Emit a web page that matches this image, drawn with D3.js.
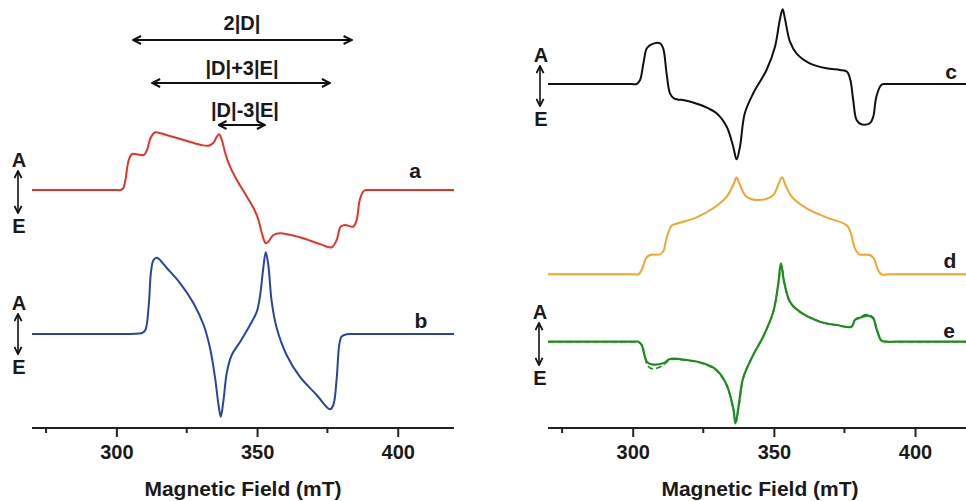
<!DOCTYPE html>
<html><head><meta charset="utf-8">
<script src="https://cdn.jsdelivr.net/npm/d3@7"></script>
<style>
body{margin:0;background:#fff}
svg{display:block}
text{font-family:"Liberation Sans",Arial,sans-serif;font-weight:bold;fill:#1a1a1a}
</style>
</head><body>
<svg id="chart" width="966" height="501"></svg>
<script>
// ---------- data (field in mT, signal in arbitrary units) ----------
const fieldA = [270,280,290,297,299.5,301.4,302.4,303.2,304.4,305.6,307.3,309.7,310.9,312.1,313.8,315.6,323.9,329.8,332.7,334.5,335.7,336.5,337.5,338.7,340.4,342.8,346.4,348.8,350.5,351.7,353.1,354.0,355.8,358.2,365.2,372.3,376.5,378.3,379.7,381.2,384.2,385.4,386.5,388.0,390.1,393,400,410,420];
const sigA   = [0,0,0,0,0,0,0.17,1.0,3.0,3.6,3.57,3.5,4.0,5.17,5.77,5.67,5.0,4.53,4.43,4.73,5.33,5.57,5.0,3.67,2.33,1.0,-0.67,-1.83,-3.0,-4.33,-5.33,-5.17,-4.5,-4.33,-4.73,-5.4,-5.73,-5.0,-3.67,-3.5,-3.67,-3.0,-1.0,-0.07,0,0,0,0,0];

const fieldB = [270,280,290,300,305,308,309.1,310.3,311.5,312.3,313.2,314.4,318.0,322.7,327.4,331.0,333.3,335.1,336.3,337.1,338.0,339.3,341.0,344.0,347.5,349.9,351.1,352.2,353.1,354.0,355.2,357.0,360.5,365.2,371.2,375.9,377.1,378.3,379.2,380.0,381.8,385,392,400,410,420];
const sigB   = [0,0,0,0,0,0.05,0.1,0.4,2.9,6.23,7.4,7.63,6.57,5.07,3.07,0.9,-1.43,-4.43,-7.1,-8.27,-6.77,-3.77,-2.1,-0.77,0.9,2.23,3.9,6.57,8.17,6.9,3.23,0.57,-2.1,-4.27,-6.1,-7.53,-7.1,-4.43,-1.1,-0.27,-0.03,0,0,0,0,0];

const fieldC = [270,280,290,296,299.5,301.4,302.6,303.8,305.0,306.7,309.7,310.8,312.0,313.2,314.6,319.1,325.0,329.7,333.3,335.6,336.8,338.0,339.7,342.7,347.4,350.4,352.1,353.1,353.9,355.7,358.0,362.7,368.6,373.4,375.9,377.1,378.1,379.3,381.0,384.0,385.2,386.3,388.1,389.9,393,400,410,420];
const sigC   = [0,0,0,0,0,0,0.4,2.07,3.57,3.97,4.07,3.57,1.07,-0.93,-1.43,-1.67,-2.2,-2.93,-4.27,-6.27,-7.53,-6.27,-2.93,-0.93,1.4,3.73,6.4,7.47,6.57,4.23,3.07,2.07,1.57,1.4,1.23,0.4,-1.6,-3.6,-4.03,-3.93,-3.27,-1.27,-0.07,0,0,0,0,0];

const fieldD = [270,280,290,297,300.5,302.0,303.2,304.7,306.1,309.7,310.8,312.0,313.8,316.1,322.6,328.5,333.3,335.6,336.8,338.0,340.3,345.0,349.8,351.5,352.9,354.1,356.3,361.6,368.6,375.7,377.1,378.7,380.2,384.0,385.4,386.9,388.1,391,398,405,412,420];
const sigD   = [0,0,0,0,0,0,0.43,1.6,1.93,2.0,2.27,3.6,4.87,5.1,5.7,6.6,7.77,8.93,9.67,8.93,7.77,7.43,7.93,8.93,9.7,8.93,7.77,6.6,5.7,4.93,4.27,2.6,2.0,1.93,1.6,0.43,0,0,0,0,0,0];

const fieldE = [270,280,290,297,300.5,302.0,303.2,304.0,305.0,306.7,310.8,313.2,319.1,325.0,329.7,333.3,335.6,336.4,337.4,339.1,342.7,346.2,349.8,351.5,352.5,353.6,355.7,359.2,366.3,372.2,377.5,378.7,380.5,383.4,385.2,386.3,388.1,389.9,393,400,410,420];
const sigE   = [0,0,0,0,0,0,-0.33,-1.16,-2.0,-2.26,-2.16,-1.73,-1.83,-2.16,-2.83,-4.33,-6.66,-8.16,-6.66,-3.66,-1.33,0.5,3.0,5.67,7.84,6.0,4.0,3.0,2.0,1.67,1.5,2.17,2.4,2.6,2.34,1.34,0.1,0,0,0,0,0];

const fieldEfit = [270,280,290,297,300.5,302.0,303.3,304.3,305.3,307.0,309.4,311.5,313.2,319.1,325.0,329.7,333.3,335.7,336.6,337.6,339.3,342.7,346.2,349.8,351.6,352.7,353.8,355.8,359.2,366.3,372.2,377.5,378.8,380.5,383.4,385.2,386.4,388.2,390.0,393,400,410,420];
const sigEfit   = [0,0,0,0,0,0,-0.4,-1.4,-2.4,-2.7,-2.55,-2.2,-1.8,-1.85,-2.2,-2.9,-4.4,-6.8,-7.9,-6.5,-3.5,-1.3,0.5,3.0,5.8,7.6,5.8,3.9,2.95,2.0,1.65,1.5,2.2,2.5,2.7,2.4,1.3,0.1,0,0,0,0,0];

// trace baselines (a.u.)
const offsets = {a:23.8, b:9.4, c:34.4, d:15.37, e:8.63};
const majorTicks = [300,350,400];
const minorTicks = [275,325,375];
const fieldDomain = [270,420];
const xTitle = "Magnetic Field (mT)";
const spanLabels = ["2|D|","|D|+3|E|","|D|-3|E|"];
const spans = [[305.9,383.6],[312.7,375.9],[336.3,352.8]];

// ---------- drawing ----------
const svg = d3.select("#chart");
const y = d3.scaleLinear().domain([0,42]).range([428,8]);

const defs = svg.append("defs");
function marker(id, size){
  defs.append("marker").attr("id",id).attr("viewBox","0 0 10 10")
    .attr("refX",9).attr("refY",5).attr("markerWidth",size).attr("markerHeight",size)
    .attr("markerUnits","userSpaceOnUse").attr("orient","auto-start-reverse")
    .append("path").attr("d","M1,1 L9,5 L1,9").attr("fill","none")
    .attr("stroke","#111").attr("stroke-width",2);
}
marker("ah",10); marker("ah2",9);

const panels = [
  {range:[32,454], traces:[
    {f:fieldA, s:sigA, off:offsets.a, color:"#e6332a", lab:"a", lx:415, ly:178},
    {f:fieldB, s:sigB, off:offsets.b, color:"#2b43a3", lab:"b", lx:421, ly:328}],
   ae:[{x:19, top:167, bot:233},{x:19, top:310, bot:374}], title:243},
  {range:[548,971.5], traces:[
    {f:fieldC, s:sigC, off:offsets.c, color:"#111111", lab:"c", lx:951, ly:79},
    {f:fieldD, s:sigD, off:offsets.d, color:"#f5a52a", lab:"d", lx:950, ly:268},
    {f:fieldEfit, s:sigEfit, off:offsets.e, color:"#1f8c1f", dash:"6,3", w:1.6},
    {f:fieldE, s:sigE, off:offsets.e, color:"#1f8c1f", lab:"e", lx:949, ly:338, w:2.2}],
   ae:[{x:541, top:62, bot:126},{x:540, top:319, bot:385}], title:760}
];

panels.forEach((p, pi) => {
  const x = d3.scaleLinear().domain(fieldDomain).range(p.range);
  const line = d3.line().curve(d3.curveCatmullRom.alpha(0.5));
  const axisY = 428;
  svg.append("line").attr("x1",p.range[0]).attr("x2",p.range[1])
    .attr("y1",axisY).attr("y2",axisY).attr("stroke","#222").attr("stroke-width",2);
  const ax = d3.axisBottom(x).tickValues(majorTicks).tickSize(9).tickPadding(8);
  const g = svg.append("g").attr("transform",`translate(0,${axisY})`).call(ax);
  g.select(".domain").remove();
  g.selectAll(".tick line").attr("stroke","#222").attr("stroke-width",2);
  g.selectAll(".tick text").attr("font-size",20).attr("font-family","Liberation Sans, Arial, sans-serif")
    .attr("font-weight","bold").attr("fill","#1a1a1a");
  svg.append("g").selectAll("line").data(minorTicks).join("line")
    .attr("x1",d=>x(d)).attr("x2",d=>x(d)).attr("y1",axisY).attr("y2",axisY+5)
    .attr("stroke","#222").attr("stroke-width",2);
  svg.append("text").attr("x",p.title).attr("y",496).attr("text-anchor","middle")
    .attr("font-size",21).text(xTitle);

  p.traces.forEach(t => {
    const pts = t.f.map((f,i)=>[x(f), y(t.off + t.s[i])]);
    svg.append("path").attr("d",line(pts)).attr("fill","none")
      .attr("stroke",t.color).attr("stroke-width",t.w||2)
      .attr("stroke-dasharray",t.dash||null).attr("stroke-linejoin","round");
    if (t.lab) svg.append("text").attr("x",t.lx).attr("y",t.ly).attr("text-anchor","middle")
      .attr("font-size",21).text(t.lab);
  });

  p.ae.forEach(a => {
    svg.append("text").attr("x",a.x).attr("y",a.top).attr("text-anchor","middle").attr("font-size",20).text("A");
    svg.append("text").attr("x",a.x).attr("y",a.bot).attr("text-anchor","middle").attr("font-size",20).text("E");
    svg.append("line").attr("x1",a.x-1).attr("x2",a.x-1).attr("y1",a.top+4).attr("y2",a.bot-20)
      .attr("stroke","#111").attr("stroke-width",1.6)
      .attr("marker-start","url(#ah2)").attr("marker-end","url(#ah2)");
  });

  if (pi === 0) {
    const ys = [[30,40],[75,83],[117,125]];
    spans.forEach((s,i)=>{
      svg.append("line").attr("x1",x(s[0])).attr("x2",x(s[1]))
        .attr("y1",ys[i][1]).attr("y2",ys[i][1]).attr("stroke","#111").attr("stroke-width",1.8)
        .attr("marker-start","url(#ah)").attr("marker-end","url(#ah)");
      svg.append("text").attr("x", i===2 ? 245 : 242).attr("y",ys[i][0]).attr("text-anchor","middle")
        .attr("font-size",20).text(spanLabels[i]);
    });
  }
});
</script>
</body></html>
